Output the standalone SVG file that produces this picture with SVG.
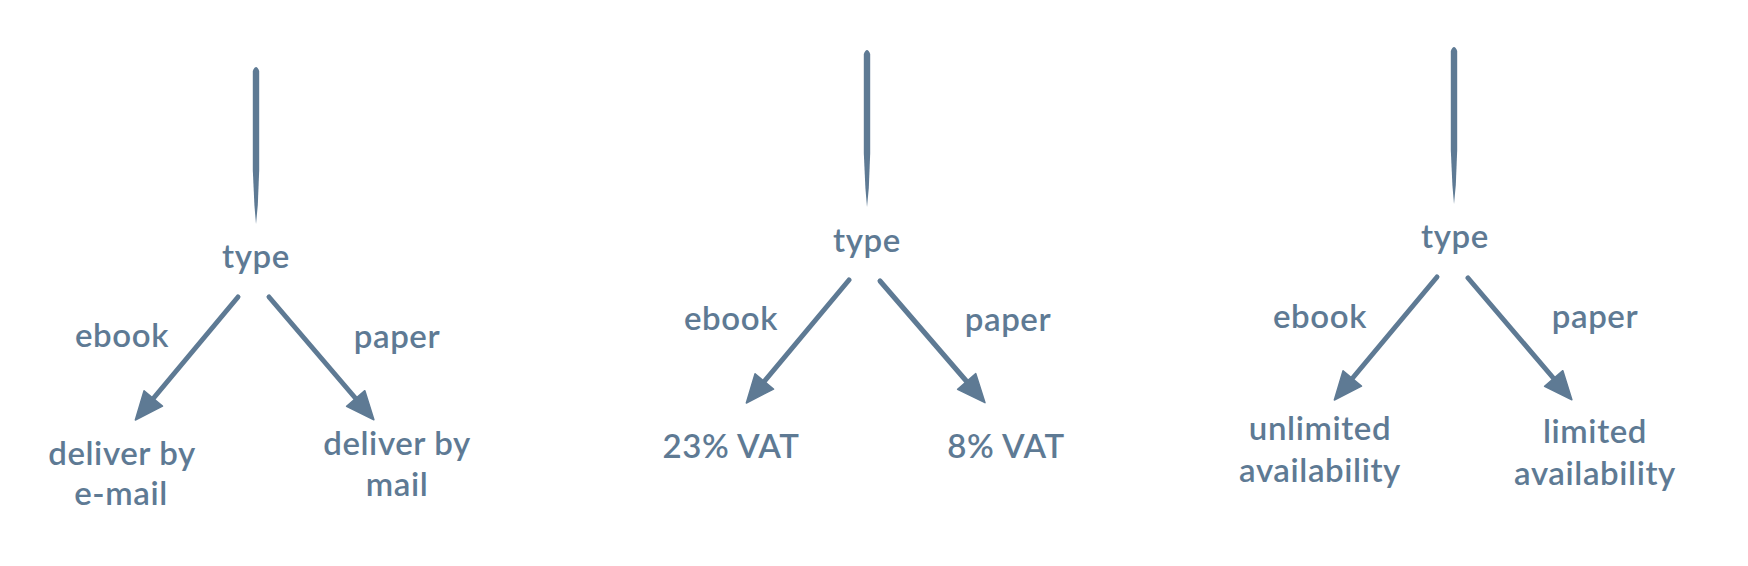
<svg xmlns="http://www.w3.org/2000/svg" width="1748" height="566" viewBox="0 0 1748 566">
<style>
  .t { font-family: "Lato", "Open Sans", sans-serif; font-weight: 600; font-size: 33px; fill: #5e7a94; text-anchor: middle; letter-spacing: 0.6px; }
  .edge { stroke: #5e7a94; stroke-width: 5; stroke-linecap: round; fill: none; }
  .stem { fill: #5e7a94; }
</style>
<defs>
  <marker id="arrow" viewBox="0 -12 28 24" refX="2" refY="0" markerWidth="28" markerHeight="24" markerUnits="userSpaceOnUse" orient="auto" overflow="visible">
    <path d="M0,-12 L28,0 L0,12 Z" fill="#5e7a94" stroke="#5e7a94" stroke-width="1.5" stroke-linejoin="round"/>
  </marker>
</defs>
<rect width="1748" height="566" fill="#ffffff"/>
<g id="connectors">
  <path class="stem" d="M252.8,71 Q256,63 259.2,71 L259.2,170 L257.8,205 L256,224 L254.4,205 L252.8,170 Z"/>
  <path class="stem" d="M863.8,54 Q867,46 870.2,54 L870.2,153 L868.8,188 L867,207 L865.4,188 L863.8,153 Z"/>
  <path class="stem" d="M1450.8,51 Q1454,43 1457.2,51 L1457.2,150 L1455.8,185 L1454,204 L1452.4,185 L1450.8,150 Z"/>
  <line class="edge" x1="238" y1="297" x2="152" y2="400" marker-end="url(#arrow)"/>
  <line class="edge" x1="269" y1="297" x2="357" y2="400" marker-end="url(#arrow)"/>
  <line class="edge" x1="849" y1="280" x2="763" y2="383" marker-end="url(#arrow)"/>
  <line class="edge" x1="880" y1="281" x2="968" y2="383" marker-end="url(#arrow)"/>
  <line class="edge" x1="1437" y1="277" x2="1351" y2="380" marker-end="url(#arrow)"/>
  <line class="edge" x1="1468" y1="278" x2="1555" y2="380" marker-end="url(#arrow)"/>
</g>
<g id="node-type-1"><text class="t" x="256" y="268">type</text></g>
<g id="label-ebook-1"><text class="t" x="122" y="347">ebook</text></g>
<g id="label-paper-1"><text class="t" x="397" y="348">paper</text></g>
<g id="node-email"><text class="t" x="122" y="465">deliver by</text><text class="t" x="121" y="505">e-mail</text></g>
<g id="node-mail"><text class="t" x="397" y="455">deliver by</text><text class="t" x="397" y="496">mail</text></g>
<g id="node-type-2"><text class="t" x="867" y="252">type</text></g>
<g id="label-ebook-2"><text class="t" x="731" y="330">ebook</text></g>
<g id="label-paper-2"><text class="t" x="1008" y="331">paper</text></g>
<g id="node-vat23"><text class="t" x="731" y="458">23% VAT</text></g>
<g id="node-vat8"><text class="t" x="1006" y="458">8% VAT</text></g>
<g id="node-type-3"><text class="t" x="1455" y="248">type</text></g>
<g id="label-ebook-3"><text class="t" x="1320" y="328">ebook</text></g>
<g id="label-paper-3"><text class="t" x="1595" y="328">paper</text></g>
<g id="node-unlimited"><text class="t" x="1320" y="440">unlimited</text><text class="t" x="1320" y="482">availability</text></g>
<g id="node-limited"><text class="t" x="1595" y="443">limited</text><text class="t" x="1595" y="485">availability</text></g>
</svg>
